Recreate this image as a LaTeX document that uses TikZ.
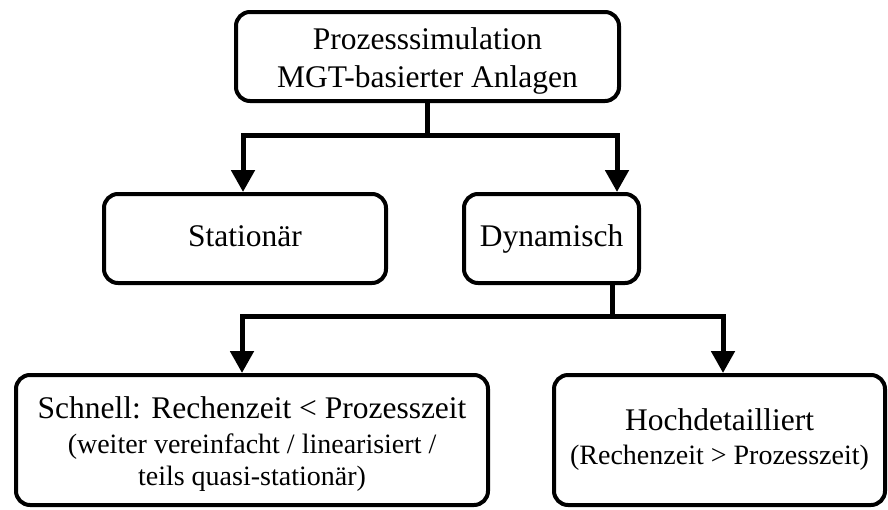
\documentclass[tikz,border=0pt]{standalone}
\usepackage{fontspec}
\setmainfont{Liberation Serif}
\usetikzlibrary{arrows.meta}

% text sizes for headings and explanatory lines
\newcommand{\mainsz}{\fontsize{31.5}{38}\selectfont}
\newcommand{\subsz}{\fontsize{28}{32}\selectfont}

\begin{document}
\begin{tikzpicture}[x=1pt,y=-1pt,
  box/.style={draw=black, line width=4pt, rounded corners=14pt, fill=white,
              align=center, inner sep=0pt, font=\mainsz},
  link/.style={draw=black, line width=5pt},
  arrowlink/.style={link, -{Triangle[width=23pt,length=22pt]}}]

\useasboundingbox (0,0) rectangle (888,509);

% boxes
\node[box, minimum width=383pt, minimum height=89pt] (top) at (427.5,56.5)
  {\rule{0pt}{30pt}Prozesssimulation\\MGT-basierter Anlagen};
\node[box, minimum width=282pt, minimum height=89pt] (stat) at (245,238.5) {Stationär\strut};
\node[box, minimum width=175pt, minimum height=89pt] (dyn) at (551.5,238.5) {Dynamisch\strut};
\node[box, minimum width=472pt, minimum height=130pt] (fast) at (252,440)
  {\rule{0pt}{30pt}Schnell: Rechenzeit < Prozesszeit\\[-3pt]
   {\subsz (weiter vereinfacht / linearisiert /}\\[-6pt]
   {\subsz teils quasi-stationär)}};
\node[box, minimum width=331pt, minimum height=130pt] (detail) at (719.5,440)
  {Hochdetailliert\\[-4pt]{\subsz (Rechenzeit > Prozesszeit)}};

% branch points and arrow columns
\coordinate (j1) at (427.5,135);
\coordinate (c1) at (243,0);
\coordinate (c2) at (617,0);
\coordinate (j2) at (612,316);
\coordinate (c3) at (242,0);
\coordinate (c4) at (723,0);

% first level
\draw[link] (top.south) -- (j1);
\draw[arrowlink] (j1) -| (stat.north -| c1);
\draw[arrowlink] (j1) -| (dyn.north -| c2);

% second level
\draw[link] (dyn.south -| j2) -- (j2);
\draw[arrowlink] (j2) -| (fast.north -| c3);
\draw[arrowlink] (j2) -| (detail.north -| c4);

\end{tikzpicture}
\end{document}
